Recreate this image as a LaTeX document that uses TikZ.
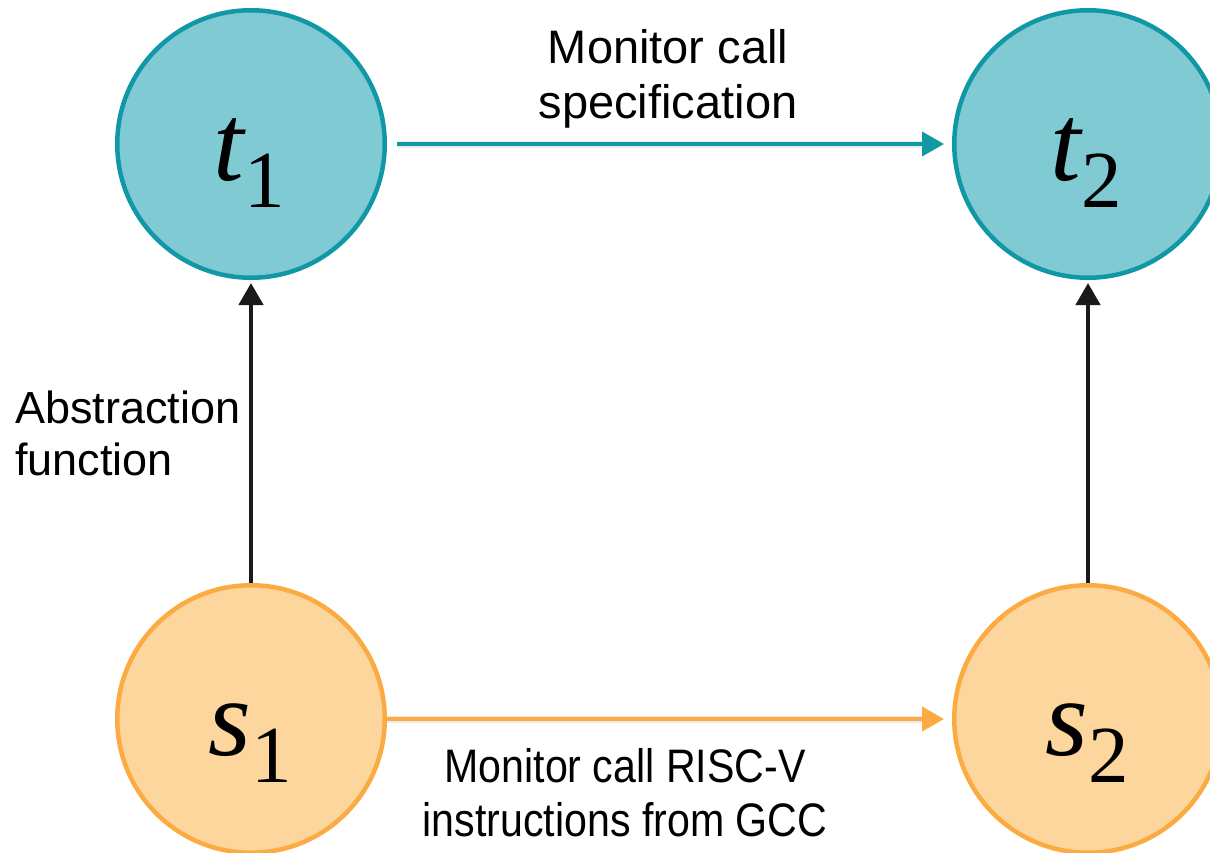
\documentclass[tikz,border=0pt]{standalone}
\usepackage{fontspec}
\setmainfont{Liberation Sans}
\newfontfamily\serfont{Liberation Serif}
\usetikzlibrary{arrows.meta}
\definecolor{tealfill}{RGB}{128,202,211}
\definecolor{tealline}{RGB}{17,152,166}
\definecolor{orfill}{RGB}{253,214,158}
\definecolor{orline}{RGB}{252,170,66}
\definecolor{darkline}{RGB}{26,26,26}
\tikzset{
  statenode/.style={circle, minimum size=267.5pt, inner sep=0pt, line width=4.5pt},
  tnode/.style={statenode, draw=tealline, fill=tealfill},
  snode/.style={statenode, draw=orline, fill=orfill},
  mathlabel/.style={anchor=base, inner sep=0pt, text=black},
  conn/.style={line width=4.3pt, -{Triangle[length=22pt,width=24pt]}},
  shadowline/.style={line width=7pt, draw=black, draw opacity=0.08},
  textlabel/.style={inner sep=0pt, text=black}
}
\newcommand{\bigit}[1]{{\serfont\fontsize{110}{110}\selectfont\itshape #1}}
\newcommand{\subdig}[1]{\raisebox{-27.5pt}{\serfont\fontsize{81}{81}\selectfont #1}}
\begin{document}
\begin{tikzpicture}[x=1pt,y=-1pt]
\useasboundingbox (0,0) rectangle (1210,852);
% state nodes
\node[tnode] (t1) at (251,144) {};
\node[tnode] (t2) at (1088,144) {};
\node[snode] (s1) at (251,719) {};
\node[snode] (s2) at (1088,719) {};
% labels inside
\node[mathlabel] (t1lab) at (249,180) {\bigit{t}\subdig{1}};
\node[mathlabel] (t2lab) at (1086,180) {\bigit{t}\subdig{2}};
\node[mathlabel] (s1lab) at (250.5,755) {\bigit{s}\subdig{1}};
\node[mathlabel] (s2lab) at (1087,755) {\bigit{s}\subdig{2}};
% shadows of horizontal connectors
\draw[shadowline, shorten <=10pt, shorten >=30pt, yshift=-4pt] (t1) -- (t2);
\draw[shadowline, shorten <=0pt, shorten >=30pt, yshift=-4pt] (s1) -- (s2);
% connectors
\draw[conn, tealline, shorten <=10pt, shorten >=8pt] (t1) -- (t2);
\draw[conn, orline, shorten >=8pt] (s1) -- (s2);
\draw[conn, darkline, line width=4.5pt, shorten >=3pt] (s1) -- (t1);
\draw[conn, darkline, line width=4.5pt, shorten >=3pt] (s2) -- (t2);
% text labels
\node[textlabel] (speclab) at (668,79.5)
  {\fontsize{47}{55}\selectfont\begin{tabular}{@{}c@{}}Monitor call\\specification\end{tabular}};
\node[textlabel, anchor=west] (abslab) at (15,438.6)
  {\fontsize{45}{52}\selectfont\begin{tabular}{@{}l@{}}Abstraction\\function\end{tabular}};
\node[textlabel] (gcclab) at (625,799)
  {\scalebox{0.875}[1]{\fontsize{47}{54}\selectfont\begin{tabular}{@{}c@{}}Monitor call RISC-V\\instructions from GCC\end{tabular}}};
\end{tikzpicture}
\end{document}
